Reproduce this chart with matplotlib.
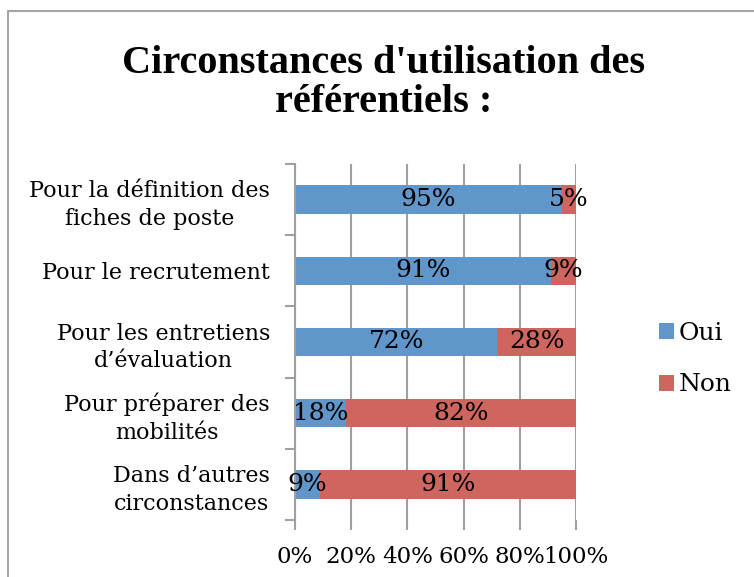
import matplotlib
matplotlib.use('Agg')
import matplotlib.pyplot as plt
import numpy as np
from matplotlib.patches import Rectangle

categories = ["Pour la définition des\nfiches de poste",
              "Pour le recrutement",
              "Pour les entretiens\nd’évaluation",
              "Pour préparer des\nmobilités",
              "Dans d’autres\ncirconstances"]
oui = [95, 91, 72, 18, 9]
non = [5, 9, 28, 82, 91]
xticks = [0, 20, 40, 60, 80, 100]

c_oui = '#6096C9'
c_non = '#CE665F'
grid_c = '#A0A0A0'

plt.rcParams['font.family'] = ['DejaVu Serif']

W, H = 754, 577
fig = plt.figure(figsize=(7.54, 5.77), dpi=100)
# cadre du graphique (coupé à droite et en bas)
top = 1 - 10.5 / H
fig.patches.append(Rectangle((8/W, -0.5), 2, top + 0.5, transform=fig.transFigure,
                             fill=False, edgecolor='#A6A6A6', linewidth=1.5))

ax = fig.add_axes([295/W, 1 - 520/H, (576-295)/W, (520-164)/H])

y = np.arange(len(categories))[::-1]
ax.barh(y, oui, height=0.4, color=c_oui, label='Oui', zorder=2)
ax.barh(y, non, left=oui, height=0.4, color=c_non, label='Non', zorder=2)

for yi, o, n in zip(y, oui, non):
    ax.text(o / 2, yi, f"{o}%", ha='center', va='center', fontsize=18, zorder=3)
    ax.text(o + n / 2, yi, f"{n}%", ha='center', va='center', fontsize=18, zorder=3)

ax.set_xlim(0, 100)
ax.set_ylim(-0.5, len(categories) - 0.5)
ax.set_xticks(xticks)
ax.set_xticklabels([f"{t}%" for t in xticks], fontsize=16.5)
ax.set_yticks(y)
ax.set_yticklabels(categories, fontsize=16, linespacing=1.35, multialignment='center')
ax.set_yticks(np.arange(len(categories) + 1) - 0.5, minor=True)
ax.tick_params(axis='y', which='major', length=0, pad=18)
ax.tick_params(axis='y', which='minor', length=7, color=grid_c, width=1.5)
ax.tick_params(axis='x', length=7, color=grid_c, width=1.5, pad=12)
ax.xaxis.grid(True, color=grid_c, linewidth=1.5, zorder=0)
for s in ['top', 'right', 'bottom']:
    ax.spines[s].set_visible(False)
ax.spines['left'].set_color(grid_c)
ax.spines['left'].set_linewidth(1.5)

fig.text(384/W, 1 - 73/H, "Circonstances d'utilisation des", ha='center', va='baseline',
         fontsize=29, fontweight='bold', family=['Liberation Serif'])
fig.text(384/W, 1 - 112/H, "référentiels :", ha='center', va='baseline',
         fontsize=29, fontweight='bold', family=['Liberation Serif'])

fig.legend(loc='center left', bbox_to_anchor=(636/W, 1 - 359/H), frameon=False,
           fontsize=18, handlelength=0.6, handleheight=0.6, labelspacing=1.15,
           handletextpad=0.2)

fig.savefig('out.png', dpi=100)
